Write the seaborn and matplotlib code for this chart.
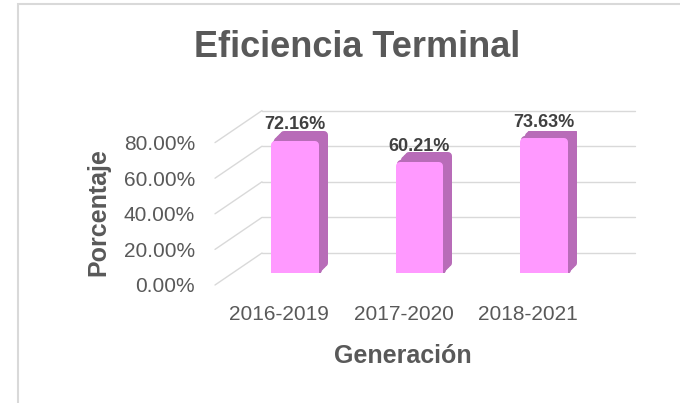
import matplotlib
matplotlib.use("Agg")
import matplotlib.pyplot as plt
import seaborn as sns
import pandas as pd
from matplotlib.transforms import ScaledTranslation
from matplotlib.patches import ConnectionPatch, Rectangle
from matplotlib.ticker import FuncFormatter

# Datos de la gráfica
generaciones = ["2016-2019", "2017-2020", "2018-2021"]
eficiencia = [0.7216, 0.6021, 0.7363]
niveles = [0.0, 0.2, 0.4, 0.6, 0.8]
etiquetas = ["72.16%", "60.21%", "73.63%"]

df = pd.DataFrame({"Generación": generaciones, "Eficiencia": eficiencia})

sns.set_theme(style="white")
plt.rcParams["font.family"] = ["Liberation Sans", "DejaVu Sans"]

gris = "#595959"
rosa = "#FF99FF"
morado = "#B86CB8"

fig = plt.figure(figsize=(6.8, 4.03), dpi=100)
ax = fig.add_axes([215 / 680, 130 / 403, 373 / 680, 142.4 / 403])


def px(dx, dy):
    # desplazamiento en pixeles (efecto 3D)
    return ScaledTranslation(dx / 100, dy / 100, fig.dpi_scale_trans)


ancho = 0.32
lw = 5.76

# "profundidad" de las barras: copias desplazadas arriba-derecha
for dx, dy in [(9, 10), (7, 7.8), (5, 5.6), (3, 3.3), (1.5, 1.7)]:
    sns.barplot(data=df, x="Generación", y="Eficiencia", color=morado, saturation=1,
                width=ancho, linewidth=lw, edgecolor=morado, ax=ax, zorder=2)
    for p in ax.containers[-1]:
        p.set_transform(ax.transData + px(dx, dy))
        p.set_joinstyle("round")

# cara frontal
sns.barplot(data=df, x="Generación", y="Eficiencia", color=rosa, saturation=1,
            width=ancho, linewidth=lw, edgecolor=rosa, ax=ax, zorder=3)
for p in ax.containers[-1]:
    p.set_joinstyle("round")

ax.bar_label(ax.containers[-1], labels=etiquetas, padding=8, fontsize=13,
             fontweight="bold", color="#404040")

ax.set_xlim(-0.645, 2.355)
ax.set_ylim(0, 0.8)
ax.set_yticks(niveles)
ax.yaxis.set_major_formatter(FuncFormatter(lambda v, _: f"{v:.2%}"))
ax.set(xlabel="", ylabel="")
for s in ax.spines.values():
    s.set_visible(False)

ax.tick_params(axis="both", length=0, labelsize=15, labelcolor=gris)
ax.tick_params(axis="y", pad=14.4)
ax.tick_params(axis="x", pad=23)

# etiquetas en el plano frontal
for lbl in ax.get_yticklabels():
    lbl.set_transform(lbl.get_transform() + px(0, -12))
for lbl in ax.get_xticklabels():
    lbl.set_transform(lbl.get_transform() + px(-16, 0))

# cuadrícula en la pared del fondo
ax.grid(axis="y", color="#D9D9D9", linewidth=1)
ax.set_axisbelow(True)
for gl in ax.get_ygridlines():
    gl.set_transform(gl.get_transform() + px(47, 20))
    gl.set_clip_on(False)

# diagonales de la pared lateral
for v in niveles:
    con = ConnectionPatch(xyA=(0, v), coordsA=ax.get_yaxis_transform() + px(0, -12),
                          xyB=(0, v), coordsB=ax.get_yaxis_transform() + px(47, 20),
                          color="#D9D9D9", linewidth=1, zorder=0)
    ax.add_artist(con)

fig.text(357.5 / 680, 1 - 57 / 403, "Eficiencia Terminal", ha="center", va="baseline",
         fontsize=26, fontweight="bold", color=gris)
fig.text(403 / 680, 1 - 363 / 403, "Generación", ha="center", va="baseline",
         fontsize=18, fontweight="bold", color=gris)
fig.text(98 / 680, 1 - 212.5 / 403, "Porcentaje", ha="center", va="center",
         rotation=90, fontsize=18, fontweight="bold", color=gris)

# borde del área del gráfico
fig.patches.append(Rectangle((18 / 680, -0.05), 1.0, 1.04, transform=fig.transFigure,
                             fill=False, edgecolor="#D9D9D9", linewidth=1.5))

fig.savefig("out.png", dpi=100)
